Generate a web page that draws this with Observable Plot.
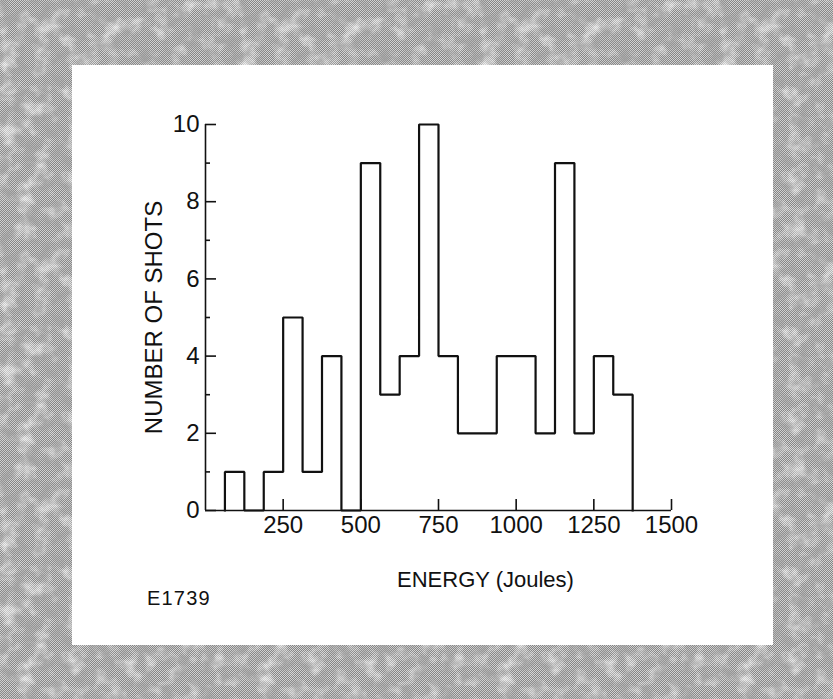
<!DOCTYPE html>
<html>
<head>
<meta charset="utf-8">
<script src="https://cdn.jsdelivr.net/npm/d3@7"></script>
<script src="https://cdn.jsdelivr.net/npm/@observablehq/plot@0.6"></script>
<style>
  html, body { margin: 0; padding: 0; }
  body {
    width: 833px; height: 699px; position: relative; overflow: hidden;
    background-color: #aaaaaa;
    background-image:
      url("data:image/svg+xml,%3Csvg xmlns='http://www.w3.org/2000/svg' width='240' height='240'%3E%3Cfilter id='n' x='0' y='0' width='100%25' height='100%25'%3E%3CfeTurbulence type='fractalNoise' baseFrequency='0.08' numOctaves='4' seed='11' stitchTiles='stitch'/%3E%3CfeColorMatrix type='matrix' values='0 0 0 0 0.35  0 0 0 0 0.35  0 0 0 0 0.35  1.8 0 0 0 -0.75'/%3E%3C/filter%3E%3Crect width='240' height='240' filter='url(%23n)'/%3E%3C/svg%3E"),
      url("data:image/svg+xml,%3Csvg xmlns='http://www.w3.org/2000/svg' width='240' height='240'%3E%3Cfilter id='m' x='0' y='0' width='100%25' height='100%25'%3E%3CfeTurbulence type='fractalNoise' baseFrequency='0.06' numOctaves='3' seed='3' stitchTiles='stitch'/%3E%3CfeColorMatrix type='matrix' values='0 0 0 0 1  0 0 0 0 1  0 0 0 0 1  0 1.6 0 0 -0.75'/%3E%3C/filter%3E%3Crect width='240' height='240' filter='url(%23m)'/%3E%3C/svg%3E"),
      repeating-conic-gradient(#858585 0 25%, #d2d2d2 0 50%);
    background-size: 240px 240px, 240px 240px, 2px 2px;
  }
  #panel {
    position: absolute; left: 72px; top: 65px; width: 701px; height: 580px;
    background: #fff;
  }
  #chart { position: absolute; left: 0; top: 0; }
  #caption {
    position: absolute; left: 75px; top: 523px;
    font: 20px "Liberation Sans", Arial, Helvetica, sans-serif;
    line-height: 20px; color: #111; letter-spacing: 1.2px;
  }
</style>
</head>
<body>
<div id="panel">
  <div id="chart"></div>
  <div id="caption">E1739</div>
</div>
<script>
// Histogram of laser shot energies (bin width 62.5 J)
const binStarts = [62.5, 125, 187.5, 250, 312.5, 375, 437.5, 500, 562.5, 625, 687.5, 750,
                   812.5, 875, 937.5, 1000, 1062.5, 1125, 1187.5, 1250, 1312.5];
const binWidth = 62.5;
const shotCounts = [1, 0, 1, 5, 1, 4, 0, 9, 3, 4, 10, 4,
                    2, 2, 4, 4, 2, 9, 2, 4, 3];
const xTicks = [250, 500, 750, 1000, 1250, 1500];
const yMajorTicks = [0, 2, 4, 6, 8, 10];
const yMinorTicks = [1, 3, 5, 7, 9];
const xLabel = "ENERGY (Joules)";
const yLabel = "NUMBER OF SHOTS";

// Outline points for a step-after curve
const outline = [{x: binStarts[0], y: 0}]
  .concat(binStarts.map((s, i) => ({x: s, y: shotCounts[i]})))
  .concat([{x: binStarts[binStarts.length - 1] + binWidth, y: 0}]);

const font = '"Liberation Sans", Arial, Helvetica, sans-serif';
const ink = "#111";

const chart = Plot.plot({
  width: 701,
  height: 530,
  marginLeft: 133,
  marginRight: 102,
  marginTop: 59,
  marginBottom: 85,
  style: {fontFamily: font, fontSize: "24px", color: ink, background: "transparent", overflow: "visible"},
  x: {domain: [0, 1500]},
  y: {domain: [0, 10]},
  marks: [
    // axis lines
    Plot.ruleY([0], {stroke: ink, strokeWidth: 1.6}),
    Plot.ruleX([0], {stroke: ink, strokeWidth: 1.6}),
    // inward tick marks
    Plot.ruleX(xTicks, {x: d => d, y1: 0, y2: 0, insetBottom: 11, stroke: ink, strokeWidth: 1.6}),
    Plot.ruleY(yMajorTicks, {y: d => d, x1: 0, x2: 0, insetRight: -11, stroke: ink, strokeWidth: 1.6}),
    Plot.ruleY(yMinorTicks, {y: d => d, x1: 0, x2: 0, insetRight: -5, stroke: ink, strokeWidth: 1.6}),
    // tick labels
    Plot.axisX({ticks: xTicks, tickSize: 0, tickPadding: 5, tickFormat: d => String(d), fill: ink, label: null}),
    Plot.axisY({ticks: yMajorTicks, tickSize: 0, tickPadding: 6, tickFormat: d => String(d), fill: ink, label: null}),
    // histogram outline
    Plot.line(outline, {x: "x", y: "y", curve: "step-after", stroke: ink, strokeWidth: 2.2, strokeLinejoin: "miter", strokeLinecap: "square"}),
    // axis titles
    Plot.text([xLabel], {frameAnchor: "bottom", dx: 47, dy: 69, lineAnchor: "middle", textAnchor: "middle", fontSize: 22, fill: ink}),
    Plot.text([yLabel], {frameAnchor: "left", dx: -51, rotate: -90, lineAnchor: "middle", textAnchor: "middle", fontSize: 24, fill: ink})
  ]
});
document.getElementById("chart").appendChild(chart);
</script>
</body>
</html>
